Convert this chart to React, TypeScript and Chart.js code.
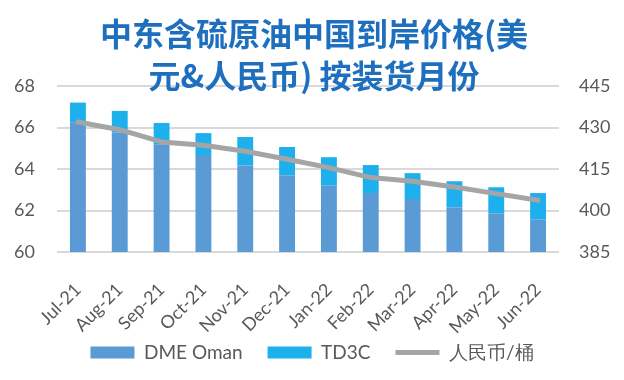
import React, { useEffect, useRef } from "react";
import { Chart, registerables } from "chart.js";

Chart.register(...registerables);

const TITLE_LINES = ["中东含硫原油中国到岸价格(美", "元&人民币) 按装货月份"];
const CATEGORIES = ["Jul-21", "Aug-21", "Sep-21", "Oct-21", "Nov-21", "Dec-21", "Jan-22", "Feb-22", "Mar-22", "Apr-22", "May-22", "Jun-22"];
const DME_OMAN = [66.25, 65.75, 65.19, 64.67, 64.17, 63.7, 63.2, 62.84, 62.55, 62.16, 61.87, 61.58];
const TD3C = [0.95, 1.05, 1.03, 1.06, 1.37, 1.36, 1.37, 1.35, 1.25, 1.25, 1.25, 1.26];
const RMB_PER_BARREL = [432.0, 429.2, 424.8, 423.6, 421.4, 418.5, 415.5, 411.9, 410.6, 408.5, 406.1, 403.7];
const SERIES_NAMES = ["DME Oman", "TD3C", "人民币/桶"];

const LEFT_MIN = 60, LEFT_MAX = 68, LEFT_STEP = 2;
const RIGHT_MIN = 385, RIGHT_MAX = 445, RIGHT_STEP = 15;

const TITLE_COLOR = "#1e6fbe";
const TEXT_COLOR = "#595959";
const GRID_COLOR = "#d9d9d9";
const FONT = "Lato";

const titlePlugin = {
  id: "customTitle",
  beforeDraw(chart: any) {
    // let the rotated category labels extend below the axis box
    const xs = chart.scales.x;
    if (xs) xs._computeLabelArea = () => undefined;
  },
  afterDraw(chart: any) {
    const ctx = chart.ctx;
    ctx.save();
    ctx.font = 'bold 32px "Noto Sans CJK SC"';
    ctx.fillStyle = TITLE_COLOR;
    ctx.textAlign = "center";
    ctx.textBaseline = "middle";
    TITLE_LINES.forEach((t, i) => ctx.fillText(t, 314, 34 + i * 41.5));
    ctx.restore();
  },
};

export default function App() {
  const ref = useRef<HTMLCanvasElement | null>(null);
  useEffect(() => {
    const chart = new Chart(ref.current as HTMLCanvasElement, {
      type: "bar",
      data: {
        labels: CATEGORIES,
        datasets: [
          {
            label: SERIES_NAMES[0],
            data: DME_OMAN,
            backgroundColor: "#5b9bd5",
            borderWidth: 0,
            yAxisID: "y",
            stack: "s",
            order: 1,
            pointStyle: "rect",
          } as any,
          {
            label: SERIES_NAMES[1],
            data: TD3C,
            backgroundColor: "#1eb0ec",
            borderWidth: 0,
            yAxisID: "y",
            stack: "s",
            order: 1,
            pointStyle: "rect",
          } as any,
          {
            type: "line",
            label: SERIES_NAMES[2],
            data: RMB_PER_BARREL,
            borderColor: "#a5a5a5",
            backgroundColor: "#a5a5a5",
            borderWidth: 5,
            borderCapStyle: "round",
            borderJoinStyle: "round",
            pointRadius: 0,
            pointStyle: "line",
            tension: 0,
            yAxisID: "y1",
            order: 0,
          } as any,
        ],
      },
      options: {
        responsive: false,
        animation: false,
        datasets: { bar: { categoryPercentage: 1, barPercentage: 0.38 } },
        layout: { padding: { top: 86, bottom: 8, left: 0, right: 0 } },
        plugins: {
          legend: {
            position: "bottom",
            labels: {
              usePointStyle: true,
              pointStyleWidth: 44,
              boxHeight: 12,
              padding: 25,
              color: TEXT_COLOR,
              font: { family: FONT, size: 19 },
              sort: (a: any, b: any) => a.datasetIndex - b.datasetIndex,
            },
          },
          tooltip: { enabled: false },
        },
        scales: {
          x: {
            stacked: true,
            grid: { display: false },
            border: { display: false },
            ticks: {
              color: TEXT_COLOR,
              font: { family: FONT, size: 18 },
              minRotation: 45,
              maxRotation: 45,
              padding: 19,
            },
            afterFit: (s: any) => { s.height = 66; },
          },
          y: {
            stacked: true,
            position: "left",
            min: LEFT_MIN,
            max: LEFT_MAX,
            grid: { color: GRID_COLOR, lineWidth: 2, drawTicks: false },
            border: { display: false },
            ticks: {
              stepSize: LEFT_STEP,
              color: TEXT_COLOR,
              font: { family: FONT, size: 18 },
              padding: 22,
            },
            afterFit: (s: any) => { s.width = 57; },
          },
          y1: {
            position: "right",
            min: RIGHT_MIN,
            max: RIGHT_MAX,
            grid: { display: false, drawTicks: false },
            border: { display: false },
            ticks: {
              stepSize: RIGHT_STEP,
              color: TEXT_COLOR,
              font: { family: FONT, size: 18 },
              padding: 20,
            },
            afterFit: (s: any) => { s.width = 65; },
          },
        },
      },
      plugins: [titlePlugin],
    } as any);
    return () => chart.destroy();
  }, []);
  return (
    <div style={{ position: "fixed", left: 0, top: 0, width: 624, height: 380, background: "#fff" }}>
      <canvas ref={ref} width={624} height={380} style={{ width: 624, height: 380, display: "block" }} />
    </div>
  );
}
